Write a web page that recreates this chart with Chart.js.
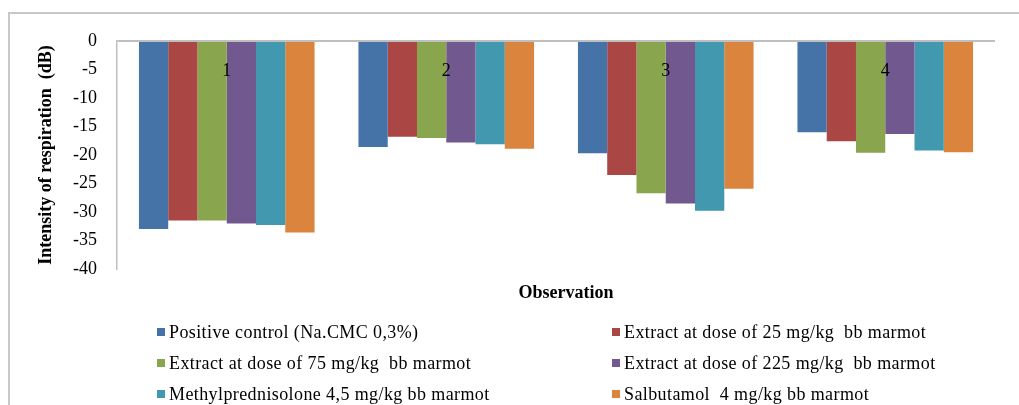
<!DOCTYPE html>
<html>
<head>
<meta charset="utf-8">
<script src="https://cdn.jsdelivr.net/npm/chart.js@4"></script>
<style>
  body { margin: 0; background: #fff; }
</style>
</head>
<body>
<canvas id="respChart" width="1019" height="405"></canvas>
<script>
// observation number on the x axis
const categories = ['1', '2', '3', '4'];
const yTicks = [0, -5, -10, -15, -20, -25, -30, -35, -40];

// intensity of respiration (dB)
const positiveControl = [-33.0, -18.6, -19.7, -16.0];
const extract25 = [-31.5, -16.8, -23.5, -17.6];
const extract75 = [-31.5, -17.0, -26.7, -19.6];
const extract225 = [-32.0, -17.8, -28.5, -16.3];
const methylpred = [-32.3, -18.1, -29.8, -19.2];
const salbutamol = [-33.6, -18.9, -25.9, -19.5];

const seriesNames = [
  'Positive control (Na.CMC 0,3%)',
  'Extract at dose of 25 mg/kg  bb marmot',
  'Extract at dose of 75 mg/kg  bb marmot',
  'Extract at dose of 225 mg/kg  bb marmot',
  'Methylprednisolone 4,5 mg/kg bb marmot',
  'Salbutamol  4 mg/kg bb marmot'
];
const seriesData = [positiveControl, extract25, extract75, extract225, methylpred, salbutamol];
const colors = ['#4572A7', '#AA4643', '#89A54E', '#71588F', '#4198AF', '#DB843D'];

const FONT = '"Liberation Serif", "Times New Roman", serif';
const lineGray = '#bfbfbf';

// grey frame round the whole chart (only top + left show in the crop)
const framePlugin = {
  id: 'frame',
  beforeDraw(chart) {
    const ctx = chart.ctx;
    ctx.save();
    ctx.strokeStyle = '#c8c8c8';
    ctx.lineWidth = 2;
    ctx.beginPath();
    ctx.moveTo(9, chart.height);
    ctx.lineTo(9, 13);
    ctx.lineTo(chart.width, 13);
    ctx.stroke();
    ctx.restore();
  }
};

// category labels sit inside the plot, just under the zero line
const catLabels = {
  id: 'catLabels',
  afterDatasetsDraw(chart) {
    const ctx = chart.ctx;
    const x = chart.scales.x;
    ctx.save();
    ctx.font = '18px ' + FONT;
    ctx.fillStyle = '#000';
    ctx.textAlign = 'center';
    ctx.textBaseline = 'middle';
    categories.forEach((c, i) => {
      ctx.fillText(c, x.getPixelForValue(i), chart.chartArea.top + 30);
    });
    ctx.restore();
  }
};

// x title + two column legend under the plot
const bottomBlock = {
  id: 'bottomBlock',
  afterDraw(chart) {
    const ctx = chart.ctx;
    const area = chart.chartArea;
    ctx.save();
    ctx.fillStyle = '#000';
    ctx.font = 'bold 18px ' + FONT;
    ctx.textAlign = 'center';
    ctx.textBaseline = 'middle';
    ctx.fillText('Observation', (area.left + area.right) / 2 + 10, 293);

    ctx.font = '18px ' + FONT;
    ctx.letterSpacing = '0.4px';
    ctx.textAlign = 'left';
    const colX = [157, 612];
    const rowY = [333, 364, 395];
    chart.data.datasets.forEach((ds, i) => {
      const cx = colX[i % 2];
      const cy = rowY[Math.floor(i / 2)];
      ctx.fillStyle = ds.backgroundColor;
      ctx.fillRect(cx, cy - 5, 8, 8);
      ctx.fillStyle = '#000';
      ctx.fillText(ds.label, cx + 12, cy);
    });
    ctx.restore();
  }
};

new Chart(document.getElementById('respChart'), {
  type: 'bar',
  data: {
    labels: categories,
    datasets: seriesNames.map((name, i) => ({
      label: name,
      data: seriesData[i],
      backgroundColor: colors[i],
      borderWidth: 0
    }))
  },
  options: {
    responsive: false,
    animation: false,
    layout: { padding: { top: 41, right: 24, bottom: 136, left: 0 } },
    datasets: { bar: { barPercentage: 1, categoryPercentage: 0.8 } },
    plugins: {
      legend: { display: false },
      tooltip: { enabled: false }
    },
    scales: {
      x: { display: false },
      y: {
        min: -40,
        max: 0,
        afterFit(scale) { scale.width = 117; },
        afterBuildTicks(scale) { scale.ticks = yTicks.map(v => ({ value: v })); },
        ticks: {
          color: '#000',
          padding: 20,
          font: { family: FONT, size: 18 }
        },
        grid: {
          drawTicks: false,
          lineWidth: 2,
          color: c => (c.tick && c.tick.value === 0 ? lineGray : 'rgba(0,0,0,0)')
        },
        border: { color: lineGray, width: 1.5 },
        title: {
          display: true,
          text: 'Intensity of respiration  (dB)',
          color: '#000',
          padding: { top: 36, bottom: 0 },
          font: { family: FONT, size: 18, weight: 'bold' }
        }
      }
    }
  },
  plugins: [framePlugin, catLabels, bottomBlock]
});
</script>
</body>
</html>
